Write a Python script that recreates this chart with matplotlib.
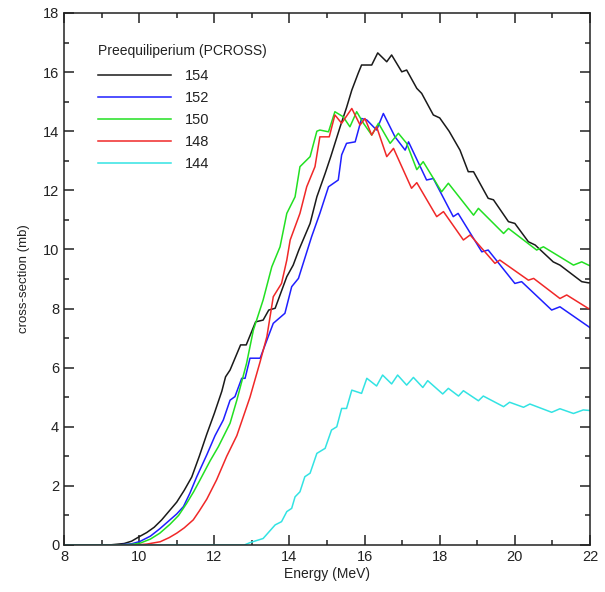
import matplotlib
matplotlib.use("Agg")
import matplotlib.pyplot as plt
from matplotlib.ticker import MultipleLocator

plt.rcParams['font.family'] = ['Liberation Sans', 'DejaVu Sans']

# ---- data (Energy in MeV, cross-section in mb) ----
e154 = [8.0, 9.2, 9.6, 9.8, 10.0, 10.2, 10.4, 10.6, 10.8, 11.0, 11.2, 11.4, 11.6, 11.8,
        12.0, 12.2, 12.3, 12.42, 12.7, 12.85,
        13.1, 13.3, 13.45, 13.62, 13.93, 14.1, 14.25, 14.55, 14.73, 14.95, 15.1, 15.35, 15.52,
        15.66, 15.83, 15.92, 16.19, 16.35, 16.59, 16.72, 16.99, 17.12, 17.39, 17.52, 17.83,
        18.0, 18.25, 18.54, 18.76, 18.9, 19.29, 19.43, 19.83, 20.0, 20.36, 20.54, 21.02, 21.2,
        21.78, 21.96, 22.0]
s154 = [0.0, 0.0, 0.05, 0.13, 0.28, 0.42, 0.6, 0.85, 1.15, 1.45, 1.85, 2.3, 3.0, 3.75,
        4.45, 5.2, 5.69, 5.92, 6.77, 6.77,
        7.55, 7.61, 7.95, 8.01, 9.08, 9.47, 9.98, 10.88, 11.78, 12.57, 13.14, 14.15, 14.8,
        15.39, 15.96, 16.24, 16.24, 16.65, 16.35, 16.58, 16.01, 16.07, 15.45, 15.28, 14.55,
        14.45, 14.0, 13.36, 12.63, 12.63, 11.73, 11.68, 10.94, 10.88, 10.26, 10.15, 9.58, 9.47,
        8.91, 8.87, 8.87]

e152 = [8.0, 9.4, 9.8, 10.02, 10.3, 10.55, 10.82, 11.0, 11.18, 11.35, 11.53, 11.8, 12.02,
        12.24, 12.42, 12.55, 12.73,
        12.82, 12.95, 13.22, 13.4, 13.57, 13.88, 14.06, 14.24, 14.59, 14.81, 15.04, 15.3,
        15.39, 15.52, 15.75, 15.92, 16.06, 16.32, 16.5, 16.81, 17.08, 17.17, 17.65, 17.83,
        18.36, 18.49, 19.12, 19.29, 20.0, 20.18, 20.98, 21.2, 21.96, 22.0]
s152 = [0.0, 0.0, 0.04, 0.12, 0.3, 0.55, 0.85, 1.05, 1.3, 1.75, 2.3, 3.05, 3.7,
        4.23, 4.9, 5.02, 5.64,
        5.64, 6.32, 6.32, 6.93, 7.5, 7.84, 8.74, 9.02, 10.43, 11.22, 12.12, 12.35,
        13.2, 13.59, 13.64, 14.43, 14.38, 14.04, 14.6, 13.81, 13.36, 13.64, 12.35, 12.4,
        11.11, 11.22, 9.92, 9.98, 8.85, 8.91, 7.95, 8.06, 7.39, 7.35]

e150 = [8.0, 9.4, 9.8, 10.02, 10.3, 10.55, 10.82, 11.05, 11.26, 11.45, 11.62, 11.89, 12.11,
        12.42, 12.6, 12.86, 13.04, 13.3, 13.53, 13.75, 13.93, 14.15, 14.28, 14.55, 14.73,
        14.81, 15.04, 15.21, 15.43, 15.61, 15.79, 15.97, 16.19, 16.37, 16.68, 16.9, 17.12,
        17.39, 17.56, 18.05, 18.23, 18.9, 19.03, 19.7, 19.83, 20.58, 20.76, 21.2, 21.56,
        21.78, 21.96, 22.0]
s150 = [0.0, 0.0, 0.02, 0.06, 0.2, 0.4, 0.7, 1.0, 1.4, 1.8, 2.2, 2.85, 3.33,
        4.12, 4.9, 6.15, 7.27, 8.29, 9.41, 10.09, 11.22, 11.78, 12.8, 13.14, 14.0,
        14.04, 13.98, 14.66, 14.49, 14.15, 14.66, 14.27, 13.87, 14.27, 13.59, 13.93, 13.59,
        12.7, 12.97, 11.95, 12.24, 11.16, 11.39, 10.54, 10.71, 9.98, 10.09, 9.75, 9.47,
        9.58, 9.47, 9.45]

e148 = [8.0, 9.9, 10.2, 10.56, 10.8, 11.0, 11.2, 11.44, 11.6, 11.8, 12.06, 12.33, 12.6,
        12.95, 13.22, 13.4, 13.57,
        13.79, 13.93, 14.02, 14.28, 14.46, 14.68, 14.81, 15.06, 15.21, 15.39, 15.66, 15.88,
        16.01, 16.19, 16.32, 16.59, 16.77, 17.25, 17.39, 17.92, 18.1, 18.63, 18.81, 19.47,
        19.6, 20.36, 20.5, 21.2, 21.38, 21.96, 22.0]
s148 = [0.0, 0.0, 0.03, 0.11, 0.25, 0.4, 0.58, 0.85, 1.15, 1.55, 2.2, 3.0, 3.7,
        5.0, 6.2, 7.05, 8.4,
        8.85, 9.64, 10.32, 11.22, 12.12, 12.8, 13.81, 13.81, 14.55, 14.27, 14.77, 14.21,
        14.43, 13.87, 14.15, 13.14, 13.42, 12.07, 12.26, 11.11, 11.28, 10.32, 10.49, 9.53,
        9.64, 8.96, 9.02, 8.34, 8.46, 8.0, 8.0]

e144 = [8.0, 12.8, 12.95, 13.3, 13.62, 13.79, 13.93, 14.06, 14.15, 14.28, 14.41, 14.55, 14.73,
        14.95, 15.12, 15.26, 15.39, 15.52, 15.66, 15.92, 16.06, 16.32, 16.48, 16.72, 16.88,
        17.12, 17.3, 17.55, 17.68, 18.08, 18.23, 18.5, 18.63, 19.03, 19.16, 19.7, 19.86,
        20.23, 20.4, 20.98, 21.2, 21.56, 21.82, 22.0]
s144 = [0.0, 0.0, 0.08, 0.22, 0.68, 0.79, 1.13, 1.24, 1.63, 1.8, 2.31, 2.43, 3.1,
        3.27, 3.89, 4.0, 4.62, 4.62, 5.24, 5.13, 5.64, 5.38, 5.75, 5.45, 5.75,
        5.41, 5.67, 5.33, 5.56, 5.11, 5.3, 5.04, 5.22, 4.88, 5.04, 4.68, 4.83,
        4.66, 4.77, 4.49, 4.61, 4.45, 4.57, 4.55]

labels = ["154", "152", "150", "148", "144"]
colors = ["#1a1a1a", "#1f1fff", "#22e022", "#f02828", "#33e3e3"]
series = [(e154, s154), (e152, s152), (e150, s150), (e148, s148), (e144, s144)]

fig = plt.figure(figsize=(6.05, 5.92), dpi=100)
ax = fig.add_axes([64 / 605, 1 - 545 / 592, 526 / 605, 532 / 592])

for (ex, sy), lab, col in zip(series, labels, colors):
    ax.plot(ex, sy, color=col, lw=1.1, label=lab)

ax.set_xlim(8, 22)
ax.set_ylim(0, 18)
ax.xaxis.set_major_locator(MultipleLocator(2))
ax.xaxis.set_minor_locator(MultipleLocator(1))
ax.yaxis.set_major_locator(MultipleLocator(2))
ax.yaxis.set_minor_locator(MultipleLocator(1))
ax.tick_params(which='both', direction='in', top=True, right=True, width=1.1,
               labelsize=10.5, colors='#222222')
ax.tick_params(which='major', length=7)
ax.tick_params(which='minor', length=3.5)
for sp in ax.spines.values():
    sp.set_linewidth(1.1)
    sp.set_color('#222222')

ax.set_xlabel("Energy (MeV)", fontsize=10, color='#222222', labelpad=2)
ax.set_ylabel("cross-section (mb)", fontsize=9.5, color='#222222', labelpad=9)

leg = ax.legend(title="Preequiliperium (PCROSS)", loc='upper left',
                bbox_to_anchor=(0.064, 0.942), frameon=False, fontsize=10.5,
                title_fontsize=10, handlelength=5.0, handletextpad=1.0,
                labelspacing=0.55, borderpad=0, borderaxespad=0, alignment='left')
leg._legend_box.sep = 8
leg.get_title().set_color('#222222')
for t in leg.get_texts():
    t.set_color('#222222')

fig.savefig("out.png", dpi=100)
